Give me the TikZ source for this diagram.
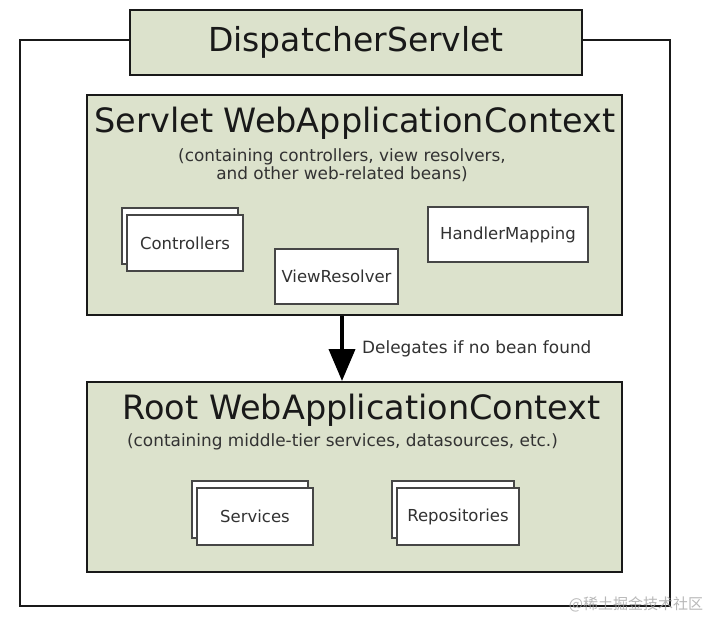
\documentclass[tikz,border=0pt]{standalone}
\usepackage{fontspec}
\setmainfont{DejaVu Sans}
\newfontfamily\cjkfont{Noto Sans CJK SC}
\usetikzlibrary{arrows.meta, shadows}
\definecolor{contextgreen}{RGB}{220, 226, 204}
\definecolor{framegray}{RGB}{25, 25, 25}
\definecolor{beangray}{RGB}{70, 70, 70}
\definecolor{textgray}{RGB}{50, 50, 50}

\begin{document}
\begin{tikzpicture}[x=1pt, y=-1pt,
    servlet/.style={rectangle, draw=framegray, line width=2pt, fill=contextgreen, minimum width=452pt, minimum height=65pt, inner sep=0pt, font=\fontsize{33}{38}\selectfont, text=black!90},
    context/.style={rectangle, draw=framegray, line width=2pt, fill=contextgreen, minimum width=535pt, inner sep=0pt},
    title/.style={font=\fontsize{33.5}{38}\selectfont, text=black!90, inner sep=0pt, anchor=base},
    note/.style={font=\fontsize{16.9}{18}\selectfont, text=textgray, align=center, inner sep=0pt},
    bean/.style={rectangle, draw=beangray, line width=1.5pt, fill=white, minimum height=56pt, inner sep=0pt, font=\fontsize{16.5}{20}\selectfont, text=textgray},
    beans/.style={bean, copy shadow={shadow xshift=-5pt, shadow yshift=7pt, draw=beangray, line width=1.5pt, fill=white}},
    frame/.style={framegray, line width=2pt},
    delegate/.style={-{Triangle[width=26pt, length=32pt]}, line width=4pt, black}
]
    \fill[white] (0,0) rectangle (723,631);
    \useasboundingbox (0,0) rectangle (723,631);

    % DispatcherServlet and its frame
    \node[servlet] (dispatcher) at (356,42.5) {DispatcherServlet};
    \coordinate (frametl) at (20,40);
    \coordinate (framebr) at (670,606);
    \draw[frame] (dispatcher.west |- frametl) -- (frametl) |- (framebr) |- (dispatcher.east |- frametl);

    % Servlet context
    \node[context, minimum height=220pt] (servletctx) at (354.5,205) {};
    \node[title] (servlettitle) at (355,133) {Servlet WebApplicationContext};
    \node[note] (servletnote) at (342,165) {(containing controllers, view resolvers,\\and other web-related beans)};
    \node[beans, minimum width=116pt] (controllers) at (185,243) {Controllers};
    \node[bean, minimum width=123pt, minimum height=55pt] (viewresolver) at (336.5,276.5) {ViewResolver};
    \node[bean, minimum width=160pt, minimum height=55pt] (handlermapping) at (508,234.5) {HandlerMapping};

    % Root context
    \node[context, minimum height=190pt] (rootctx) at (354.5,477) {};
    \node[title] (roottitle) at (361.5,419) {Root WebApplicationContext};
    \node[note] (rootnote) at (342.5,442) {(containing middle-tier services, datasources, etc.)};
    \node[beans, minimum width=116pt, minimum height=57pt] (services) at (255,516.5) {Services};
    \node[beans, minimum width=122pt, minimum height=57pt] (repositories) at (458,516.5) {Repositories};

    % Delegation
    \coordinate (arrowx) at (342,0);
    \draw[delegate] (servletctx.south -| arrowx) -- (rootctx.north -| arrowx);
    \node[note, anchor=west] (delegatelabel) at (362,349) {Delegates if no bean found};

    \node[font=\cjkfont\fontsize{15}{18}\selectfont, text=gray!70, opacity=0.8] (watermark) at (636,604) {@稀土掘金技术社区};
\end{tikzpicture}
\end{document}
